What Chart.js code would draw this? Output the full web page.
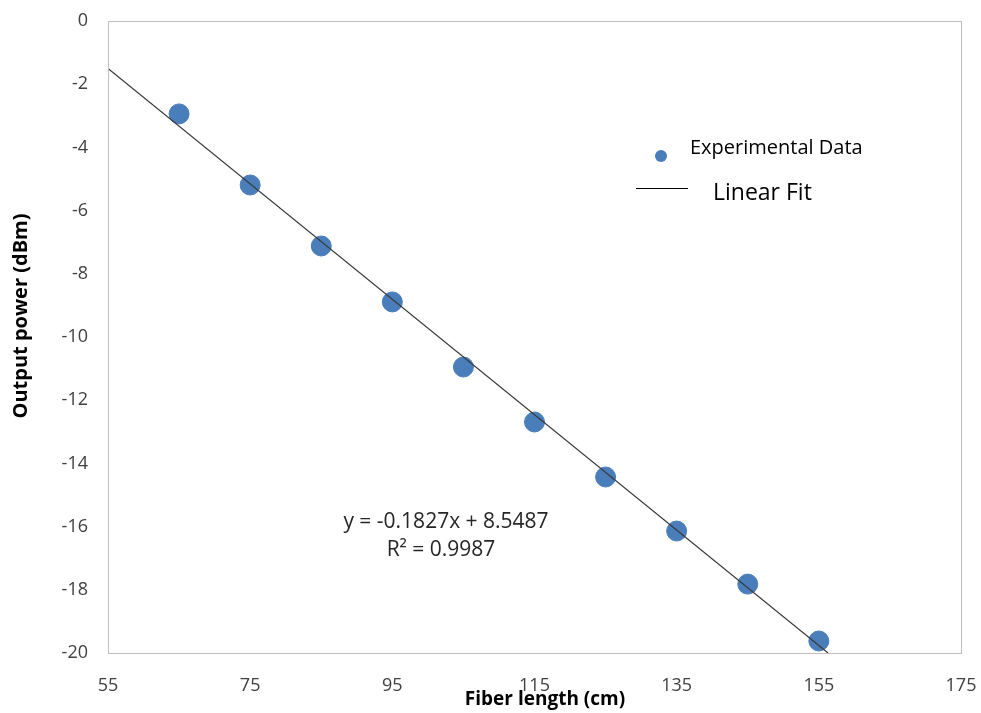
<!DOCTYPE html>
<html>
<head>
<meta charset="utf-8">
<script src="https://cdn.jsdelivr.net/npm/chart.js@4"></script>
<style>
  html, body { margin: 0; padding: 0; background: #fff; }
  #wrap { width: 981px; height: 713px; }
</style>
</head>
<body>
<div id="wrap"><canvas id="fiberChart" width="981" height="713"></canvas></div>
<script>
  // fiber length (cm) and measured output power (dBm)
  const fiberLength = [65, 75, 85, 95, 105, 115, 125, 135, 145, 155];
  const outputPower = [-2.94, -5.19, -7.12, -8.89, -10.95, -12.69, -14.43, -16.14, -17.82, -19.62];

  // linear trendline end points (y = -0.1827x + 8.5487)
  const fitX = [55, 156.3];
  const fitY = [-1.50, -20.0];

  const fitLabel = 'y = -0.1827x + 8.5487';
  const r2Label = 'R² = 0.9987';

  const blue = '#4a7ebb';
  const tickFont = { family: 'Open Sans', size: 18 };

  // frame, axis titles, equation and legend
  const decor = {
    id: 'decor',
    afterDraw(chart) {
      const ctx = chart.ctx;
      const a = chart.chartArea;
      ctx.save();
      ctx.strokeStyle = '#bfbfbf';
      ctx.lineWidth = 1;
      ctx.strokeRect(a.left + 0.5, a.top + 0.5, a.right - a.left, a.bottom - a.top);

      ctx.fillStyle = '#000';
      ctx.font = 'bold 19px "Open Sans"';
      ctx.textAlign = 'center';
      ctx.textBaseline = 'middle';
      ctx.fillText('Fiber length (cm)', 545, 700);
      ctx.save();
      ctx.translate(21, 316);
      ctx.rotate(-Math.PI / 2);
      ctx.font = 'bold 20px "Open Sans"';
      ctx.fillText('Output power (dBm)', 0, 0);
      ctx.restore();

      ctx.fillStyle = '#262626';
      ctx.font = '21px "Open Sans"';
      ctx.fillText(fitLabel, 446, 522);
      ctx.fillText(r2Label, 441, 550);

      // legend
      ctx.fillStyle = blue;
      ctx.beginPath();
      ctx.arc(661, 156, 6, 0, Math.PI * 2);
      ctx.fill();
      ctx.fillStyle = '#000';
      ctx.textAlign = 'left';
      ctx.font = '20px "Open Sans"';
      ctx.fillText('Experimental Data', 690, 148);
      ctx.strokeStyle = '#000';
      ctx.beginPath();
      ctx.moveTo(636, 188.5);
      ctx.lineTo(688, 188.5);
      ctx.stroke();
      ctx.font = '23px "Open Sans"';
      ctx.fillText('Linear Fit', 713, 193);
      ctx.restore();
    }
  };

  const ctx = document.getElementById('fiberChart').getContext('2d');
  new Chart(ctx, {
    type: 'scatter',
    data: {
      datasets: [
        {
          label: 'Experimental Data',
          data: fiberLength.map((x, i) => ({ x: x, y: outputPower[i] })),
          backgroundColor: blue,
          borderColor: blue,
          pointRadius: 10,
          pointHoverRadius: 10,
          order: 2
        },
        {
          label: 'Linear Fit',
          type: 'line',
          data: fitX.map((x, i) => ({ x: x, y: fitY[i] })),
          borderColor: '#3a3a3a',
          borderWidth: 1.2,
          pointRadius: 0,
          fill: false,
          order: 1
        }
      ]
    },
    options: {
      responsive: false,
      animation: false,
      layout: { padding: { left: 0, top: 21, right: 20, bottom: 0 } },
      plugins: { legend: { display: false }, tooltip: { enabled: false } },
      scales: {
        x: {
          type: 'linear',
          min: 55,
          max: 175,
          ticks: { stepSize: 20, color: '#404040', font: tickFont, padding: 22 },
          grid: { display: false, drawTicks: false },
          border: { display: false },
          afterFit(s) { s.height = 60; s.paddingLeft = 0; s.paddingRight = 0; }
        },
        y: {
          min: -20,
          max: 0,
          ticks: { stepSize: 2, color: '#404040', font: tickFont, padding: 20 },
          grid: { display: false, drawTicks: false },
          border: { display: false },
          afterFit(s) { s.width = 108; s.paddingTop = 0; s.paddingBottom = 0; }
        }
      }
    },
    plugins: [decor]
  });
</script>
</body>
</html>
